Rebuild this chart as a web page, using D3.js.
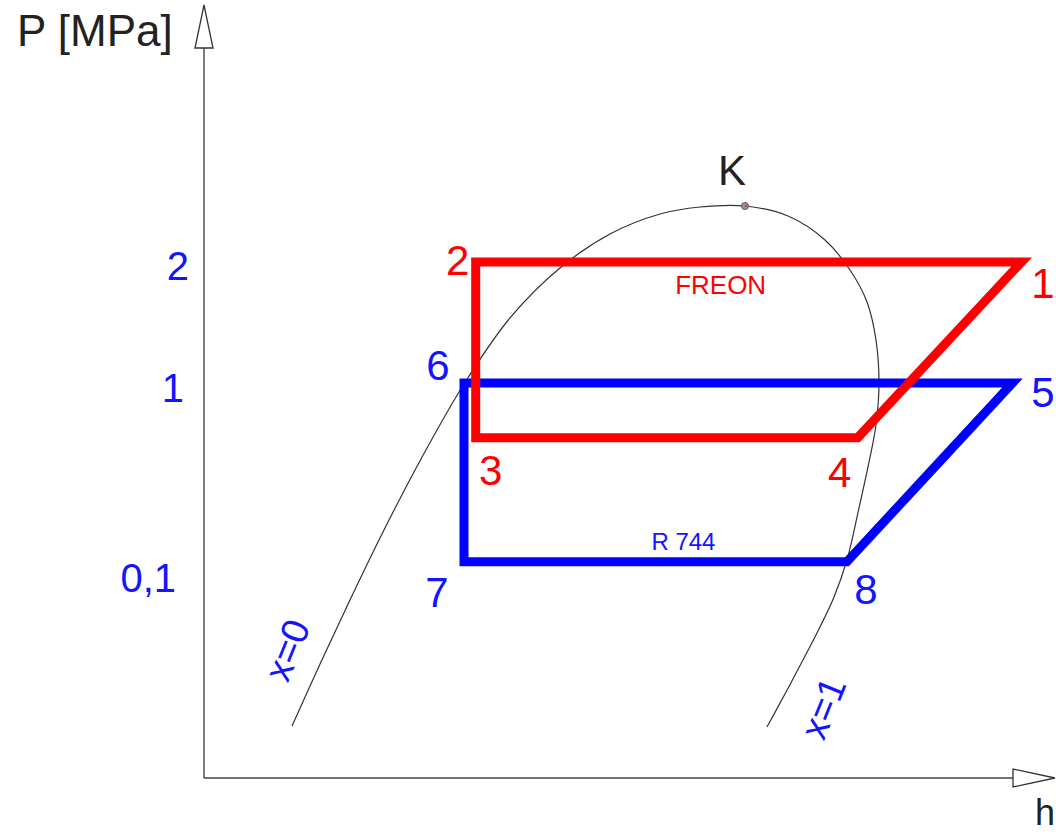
<!DOCTYPE html>
<html>
<head>
<meta charset="utf-8">
<script src="https://cdn.jsdelivr.net/npm/d3@7"></script>
<style>
  html, body { margin: 0; padding: 0; background: #fff; }
  svg { display: block; font-family: "Liberation Sans", Arial, sans-serif; }
</style>
</head>
<body>
<svg id="chart" width="1056" height="834"></svg>
<script>
// Schematic P-h diagram: enthalpy h and pressure level on 0..100 diagram units.

// FREON cycle corners 2 -> 1 -> 4 -> 3 (h, P level)
const freonH = [32.5, 97.8, 78.2, 32.5];
const freonP = [69.0, 69.0, 45.5, 45.5];
const freonNames = ["2", "1", "4", "3"];

// R 744 cycle corners 6 -> 5 -> 8 -> 7
const r744H = [31.1, 96.7, 76.9, 31.1];
const r744P = [52.8, 52.8, 28.9, 28.9];
const r744Names = ["6", "5", "8", "7"];

// Saturation dome, x=0 branch through the critical point K to the x=1 branch
const domeH = [10.53, 13.88, 17.46, 21.53, 25.96, 31.10, 36.60, 42.58, 48.56, 54.55, 59.33, 64.71,
               69.86, 74.28, 77.27, 79.31, 80.38, 80.74, 80.38, 79.55, 78.35, 76.91, 75.36, 73.68,
               71.77, 69.62, 67.34];
const domeP = [6.95, 15.24, 23.80, 33.16, 42.65, 52.67, 61.50, 68.18, 72.73, 75.40, 76.34, 76.47,
               75.13, 71.93, 67.91, 63.64, 58.56, 52.81, 47.19, 42.25, 36.10, 29.14, 24.20, 20.19,
               16.04, 11.50, 6.82];

// Critical point
const criticalH = 64.71;
const criticalP = 76.47;

// Pressure axis labels [MPa] and the levels they sit at
const pressureTickLabels = ["2", "1", "0,1"];
const pressureTickLevels = [68.4, 52.1, 26.6];

const W = 1056;
const svg = d3.select("#chart");

const x = d3.scaleLinear().domain([0, 100]).range([204, 1040]);
const y = d3.scaleLinear().domain([0, 100]).range([778, 30]);

const RED = "#ff0000";
const BLUE = "#0000ff";
const LABEL_BLUE = "#1414ff";
const INK = "#333";

// ---- axes -------------------------------------------------------------
const axisG = svg.append("g");
const x0 = x(0), yBase = y(0);

axisG.append("line")
  .attr("x1", x0).attr("y1", yBase).attr("x2", x0).attr("y2", 48)
  .attr("stroke", "#444").attr("stroke-width", 1.4);
axisG.append("line")
  .attr("x1", x0).attr("y1", yBase).attr("x2", 1013).attr("y2", yBase)
  .attr("stroke", "#444").attr("stroke-width", 1.4);

// hollow arrowheads
axisG.append("path")
  .attr("d", `M${x0},5 L${x0 + 9},48 L${x0 - 9},48 Z`)
  .attr("fill", "#fff").attr("stroke", INK).attr("stroke-width", 1.3);
axisG.append("path")
  .attr("d", `M1055,${yBase} L1013,${yBase - 9} L1013,${yBase + 9} Z`)
  .attr("fill", "#fff").attr("stroke", INK).attr("stroke-width", 1.3);

// pressure labels via a left axis without ticks or domain
const tickShift = [0, -5, -13];
const yAxis = d3.axisLeft(y)
  .tickValues(pressureTickLevels)
  .tickSize(0)
  .tickPadding(15)
  .tickFormat((d, i) => pressureTickLabels[i]);

const yAxisG = svg.append("g")
  .attr("transform", `translate(${x0},0)`)
  .call(yAxis);
yAxisG.select(".domain").remove();
yAxisG.selectAll("text")
  .attr("dx", (d, i) => tickShift[i])
  .attr("fill", LABEL_BLUE)
  .style("font-size", "40px")
  .style("font-family", "'Liberation Sans', Arial, sans-serif");

svg.append("text")
  .attr("x", 17).attr("y", 46)
  .attr("fill", "#222")
  .style("font-size", "44px")
  .text("P [MPa]");

svg.append("text")
  .attr("x", W - 1).attr("y", 825)
  .attr("text-anchor", "end")
  .attr("fill", "#222")
  .style("font-size", "36px")
  .text("h");

// ---- saturation dome ----------------------------------------------------
const dome = domeH.map((h, i) => [h, domeP[i]]);
svg.append("path")
  .datum(dome)
  .attr("fill", "none")
  .attr("stroke", INK)
  .attr("stroke-width", 1.2)
  .attr("d", d3.line().x(d => x(d[0])).y(d => y(d[1])).curve(d3.curveCatmullRom.alpha(0.5)));

// ---- cycles -------------------------------------------------------------
function drawCycle(hs, ps, color) {
  const pts = hs.map((h, i) => [h, ps[i]]);
  svg.append("path")
    .datum(pts)
    .attr("fill", "none")
    .attr("stroke", color)
    .attr("stroke-width", 9)
    .attr("stroke-linejoin", "miter")
    .attr("stroke-miterlimit", 10)
    .attr("d", d3.line().x(d => x(d[0])).y(d => y(d[1])).curve(d3.curveLinearClosed));
}
drawCycle(r744H, r744P, BLUE);
drawCycle(freonH, freonP, RED);

// corner numbers: offsets from each corner (dx, dy to baseline); labels kept inside the frame
const freonOffsets = [[-18, 13], [26, 36], [-18, 49], [15, 47]];
const r744Offsets = [[-26, -3], [34, 24], [19, 42], [-27, 45]];

function cornerLabels(hs, ps, names, offsets, color) {
  svg.append("g").selectAll("text")
    .data(names)
    .join("text")
    .attr("x", (d, i) => Math.min(x(hs[i]) + offsets[i][0], W - 13))
    .attr("y", (d, i) => y(ps[i]) + offsets[i][1])
    .attr("text-anchor", "middle")
    .attr("fill", color)
    .style("font-size", "42px")
    .text(d => d);
}
cornerLabels(freonH, freonP, freonNames, freonOffsets, RED);
cornerLabels(r744H, r744P, r744Names, r744Offsets, LABEL_BLUE);

// cycle names
svg.append("text")
  .attr("x", (x(freonH[0]) + x(freonH[1])) / 2 - 28)
  .attr("y", y(freonP[0]) + 32)
  .attr("text-anchor", "middle")
  .attr("fill", RED)
  .style("font-size", "26px")
  .text("FREON");

svg.append("text")
  .attr("x", (x(r744H[3]) + x(r744H[2])) / 2 + 28)
  .attr("y", y(r744P[3]) - 12)
  .attr("text-anchor", "middle")
  .attr("fill", LABEL_BLUE)
  .style("font-size", "24px")
  .text("R 744");

// ---- critical point K ---------------------------------------------------
svg.append("circle")
  .attr("cx", x(criticalH)).attr("cy", y(criticalP)).attr("r", 3.5)
  .attr("fill", "#999").attr("stroke", "#555").attr("stroke-width", 1);
svg.append("circle")
  .attr("cx", x(criticalH) + 0.8).attr("cy", y(criticalP)).attr("r", 1.2)
  .attr("fill", "#d33");
svg.append("text")
  .attr("x", x(criticalH) - 13).attr("y", y(criticalP) - 21)
  .attr("text-anchor", "middle")
  .attr("fill", "#222")
  .style("font-size", "42px")
  .text("K");

// ---- quality labels along the dome branches ----------------------------
svg.append("text")
  .attr("transform", `translate(${287},${650}) rotate(-68)`)
  .attr("text-anchor", "middle")
  .attr("dy", "0.35em")
  .attr("fill", LABEL_BLUE)
  .style("font-size", "38px")
  .text("x=0");

svg.append("text")
  .attr("transform", `translate(${823},${708}) rotate(-68)`)
  .attr("text-anchor", "middle")
  .attr("dy", "0.35em")
  .attr("fill", LABEL_BLUE)
  .style("font-size", "38px")
  .text("x=1");
</script>
</body>
</html>
